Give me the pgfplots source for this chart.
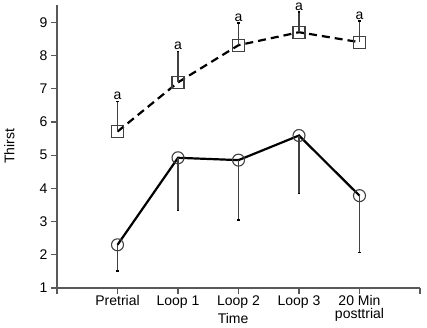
\documentclass[border=0pt]{standalone}
\usepackage{pgfplots}
\pgfplotsset{compat=1.18}
\usepackage{fontspec}
\setmainfont{Liberation Sans}
\begin{document}
\begin{tikzpicture}
\begin{axis}[
  name=ax,
  at={(0,0)}, anchor=south west,
  scale only axis,
  width=363pt, height=283pt,
  xmin=0, xmax=6, ymin=1, ymax=9.52,
  axis lines=left,
  axis line style={-, draw=black!65, line width=1.6pt, shorten <=-2pt},
  xtick={0,1,2,3,4,5,6},
  xticklabels={,Pretrial,Loop 1,Loop 2,Loop 3,{20 Min\\posttrial},},
  ytick={1,2,...,9},
  tick align=outside,
  major tick length=6pt,
  tick style={draw=black!65, line width=1.2pt},
  /pgf/number format/assume math mode=true,
  tick label style={font=\fontsize{14}{13}\selectfont},
  x tick label style={align=center, anchor=north, inner sep=1.5pt},
  xlabel={Time},
  xlabel style={at={(axis description cs:0.485,0)}, anchor=north, yshift=-24pt, inner sep=1.5pt, font=\fontsize{14}{14}\selectfont},
  ylabel={Thirst},
  ylabel style={at={(axis description cs:-0.107,0.5)}, anchor=south, font=\fontsize{14}{14}\selectfont},
  clip=false,
]
% squares (dashed) with upward error bars
\addplot[black, line width=2.2pt, dash pattern=on 8pt off 5pt,
  mark=square, mark size=6pt, mark options={solid, line width=1.1pt, draw=black!75, fill=none},
  error bars/.cd, y dir=plus, y explicit,
  error bar style={solid, line width=1.3pt, draw=black!75},
  error mark options={line width=1.3pt, mark size=1.2pt, rotate=90}]
  coordinates {
  (1,5.71) +- (0,0.91)
  (2,7.19) +- (0,0.94)
  (3,8.31) +- (0,0.67)
  (4,8.70) +- (0,0.61)
  (5,8.40) +- (0,0.64)
  };
% circles (solid) with downward error bars
\addplot[black, line width=2.2pt,
  mark=o, mark size=6pt, mark options={solid, line width=1.1pt, draw=black!75, fill=none},
  error bars/.cd, y dir=minus, y explicit,
  error bar style={solid, line width=1.3pt, draw=black!75},
  error mark options={line width=1.3pt, mark size=1.2pt, rotate=90}]
  coordinates {
  (1,2.30) +- (0,0.79)
  (2,4.92) +- (0,1.59)
  (3,4.85) +- (0,1.80)
  (4,5.59) +- (0,1.75)
  (5,3.78) +- (0,1.72)
  };
% significance letters
\addplot[draw=none, mark=none, nodes near coords={a},
  every node near coord/.append style={anchor=south, inner sep=1pt, yshift=0.5pt, font=\fontsize{14}{14}\selectfont}]
  coordinates {(1,6.62) (2,8.13) (3,8.98) (4,9.31) (5,9.04)};
\end{axis}
\pgfresetboundingbox
\path ([shift={(-57pt,-40pt)}]ax.south west) rectangle ([shift={(7pt,5pt)}]ax.north east);
\end{tikzpicture}
\end{document}
